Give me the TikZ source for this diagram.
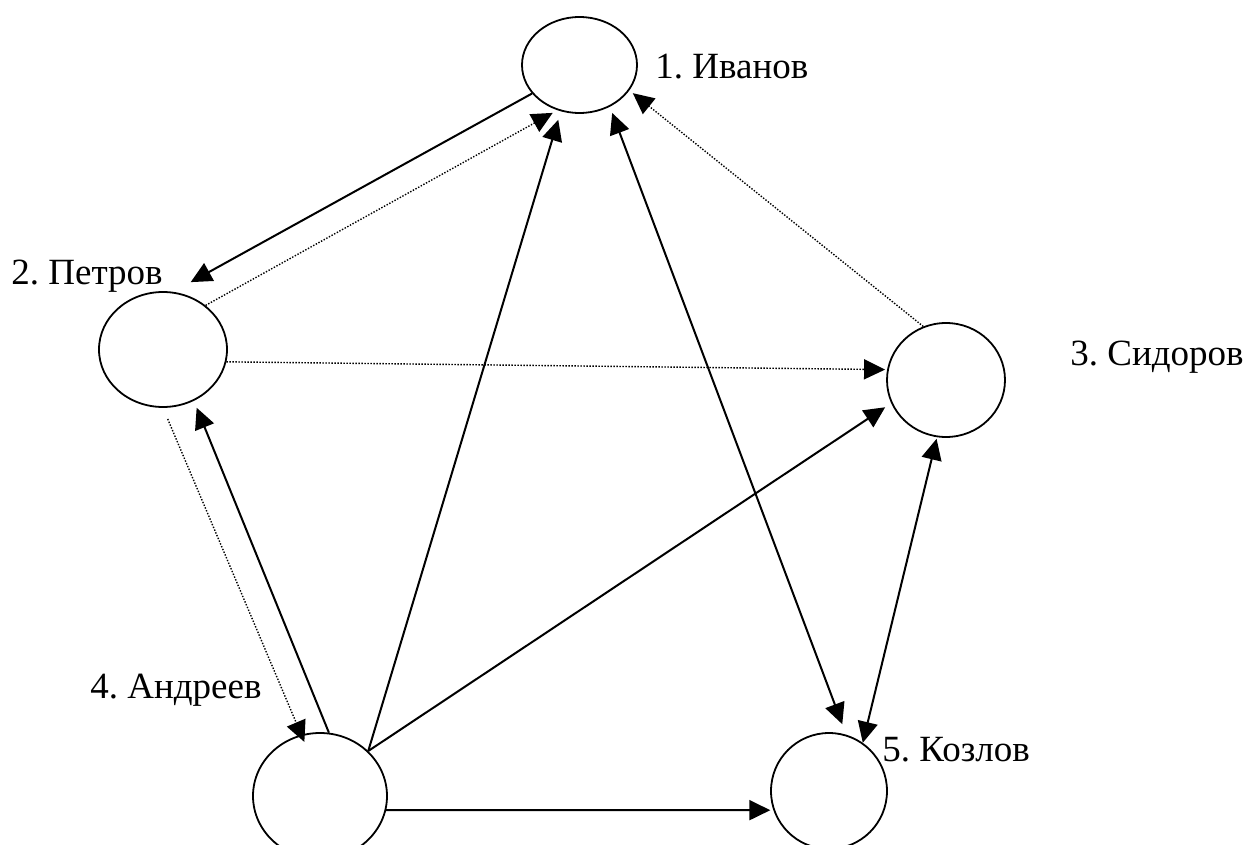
\documentclass[tikz,border=0pt]{standalone}
\usepackage{fontspec}
\setmainfont{Liberation Serif}
\usetikzlibrary{arrows.meta,shapes.geometric}
\begin{document}
\begin{tikzpicture}[x=0.5pt,y=-0.5pt]
			\tikzstyle{fleche}=[-{Triangle[length=10.5pt,width=10pt]},line width=1pt]
			\tikzstyle{doublefleche}=[{Triangle[length=10.5pt,width=10pt]}-{Triangle[length=10.5pt,width=10pt]},line width=1pt]
			\tikzstyle{pointille}=[line width=0.7pt,dash pattern=on 0.7pt off 0.8pt]
			\tikzstyle{noeud}=[draw,ellipse,line width=0.9pt,inner sep=0pt]
			\tikzstyle{etiquette}=[anchor=base west,inner sep=0pt,font=\fontsize{18.5}{22}\selectfont\frenchspacing]
			
			\useasboundingbox (0,0) rectangle (1247,845);
			\clip (0,0) rectangle (1247,845);
			
			\node[noeud,minimum width=57.5pt,minimum height=48pt] (I) at (579.5,65) {};
			\node[noeud,minimum width=64pt,minimum height=57.5pt] (P) at (163,349.5) {};
			\node[noeud,minimum width=59pt,minimum height=57pt] (S) at (946,380) {};
			\node[noeud,minimum width=67pt,minimum height=63pt] (A) at (320,796) {};
			\node[noeud,minimum width=58pt,minimum height=58pt] (K) at (829,791) {};
			
			\node[etiquette] (nI) at (655,79) {1. Иванов};
			\node[etiquette] (nP) at (11,285) {2. Петров};
			\node[etiquette] (nS) at (1070,365) {3. Сидоров};
			\node[etiquette] (nA) at (90,698) {4. Андреев};
			\node[etiquette] (nK) at (882,761) {5. Козлов};
			
			\draw[fleche,shorten >=10pt] (I.211)--(P.80);
			\draw[fleche,pointille,shorten >=2.7pt] (P.46)--(I.244);
			\draw[fleche,shorten >=4.4pt] (A.43)--(I.248);
			\draw[doublefleche,shorten <=3.3pt,shorten >=5.6pt] (I.306)--(K.73);
			\draw[fleche,pointille,shorten >=2.2pt] (S.113)--(I.333);
			\draw[fleche,pointille,shorten >=1pt] (P.349)--(S.170);
			\draw[fleche,shorten >=3.6pt] (A.43)--(S.203);
			\draw[doublefleche,shorten <=0.8pt] (S.261)--(K.55);
			\draw[fleche,pointille,shorten <=6pt,shorten >=-4pt] (P.270)--(A.107);
			\draw[fleche,shorten >=3.7pt] (A.82)--(P.301);
			\draw[fleche,shorten >=1.5pt] (A.348)--(K.199);
		\end{tikzpicture}
\end{document}
